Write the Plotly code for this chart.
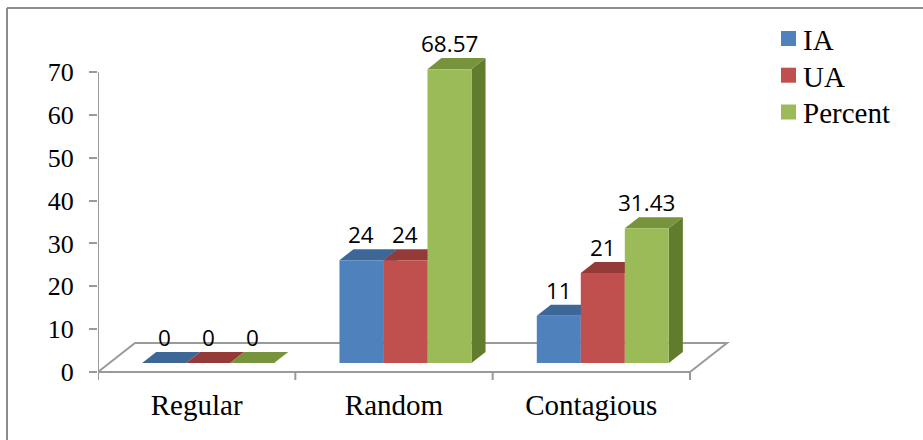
import plotly.graph_objects as go

# ---- data ----
categories = ["Regular", "Random", "Contagious"]
series_names = ["IA", "UA", "Percent"]
ia_values = [0, 24, 11]
ua_values = [0, 24, 21]
percent_values = [0, 68.57, 31.43]
y_tick_values = [0, 10, 20, 30, 40, 50, 60, 70]

series_values = [ia_values, ua_values, percent_values]
front_colors = ["#4F81BD", "#C0504D", "#9BBB59"]
top_colors = ["#3C6797", "#943B39", "#77933C"]
side_colors = ["#33578A", "#7E2F2D", "#627C2E"]

# ---- geometry of the plotting box (pixels) ----
W, H = 923, 440
PL, PR, PT, PB = 98, 740, 30, 380          # plot area edges
ZERO_PX = 372                               # pixel row of value 0 on the front edge
UX = 592 / 3                                # pixels per category unit
KY = 300 / 70                               # pixels per value unit

x_range = [-0.5, -0.5 + (PR - PL) / UX]
y_range = [-(PB - ZERO_PX) / KY, (ZERO_PX - PT) / KY]

# floor depth and bar depth, in pixels, converted to data units
FLOOR_DX, FLOOR_DY = 37 / UX, 29 / KY
F_FRONT, F_BACK = 0.31, 0.69
lift = F_FRONT * FLOOR_DY
shift = F_FRONT * FLOOR_DX
depth_dx = (F_BACK - F_FRONT) * FLOOR_DX
depth_dy = (F_BACK - F_FRONT) * FLOOR_DY
bar_w = 44 / UX
n_cat = len(categories)


def px_to_paper_x(px):
    return (px - PL) / (PR - PL)


def px_to_paper_y(py):
    return (PB - py) / (PB - PT)


fig = go.Figure()
shapes = []
annotations = []

grey = "#9A9A9A"

# floor of the 3-D box
x_left, x_right = -0.5, n_cat - 0.5
shapes.append(dict(
    type="path", xref="x", yref="y", layer="below",
    path=(f"M{x_left},0 L{x_right},0 L{x_right + FLOOR_DX},{FLOOR_DY} "
          f"L{x_left + FLOOR_DX},{FLOOR_DY} Z"),
    line=dict(color=grey, width=2), fillcolor="white"))

# value axis line
shapes.append(dict(type="line", xref="x", yref="y", layer="below",
                   x0=x_left, x1=x_left, y0=0, y1=max(y_tick_values),
                   line=dict(color=grey, width=2)))

# category boundary tick marks under the floor
for b in range(n_cat + 1):
    xb = x_left + b
    shapes.append(dict(type="line", xref="x", yref="y", layer="below",
                       x0=xb, x1=xb, y0=0, y1=-8 / KY,
                       line=dict(color=grey, width=2)))

# bars: front faces as bar traces, tops and sides as paths beneath them
for j, (name, vals) in enumerate(zip(series_names, series_values)):
    centers = [i + shift + (j - 1) * bar_w for i in range(n_cat)]
    fig.add_trace(go.Bar(
        name=name, x=centers, y=vals, base=[lift] * n_cat, width=bar_w,
        marker=dict(color=front_colors[j], line=dict(width=0)),
        showlegend=False, hoverinfo="skip"))
    for c, v in zip(centers, vals):
        xl, xr = c - bar_w / 2, c + bar_w / 2
        yb, yt = lift, lift + v
        if v > 0:
            shapes.append(dict(
                type="path", xref="x", yref="y", layer="below",
                path=(f"M{xr},{yb} L{xr},{yt} L{xr + depth_dx},{yt + depth_dy} "
                      f"L{xr + depth_dx},{yb + depth_dy} Z"),
                line=dict(width=0), fillcolor=side_colors[j]))
        shapes.append(dict(
            type="path", xref="x", yref="y", layer="below",
            path=(f"M{xl},{yt} L{xr},{yt} L{xr + depth_dx},{yt + depth_dy} "
                  f"L{xl + depth_dx},{yt + depth_dy} Z"),
            line=dict(width=0), fillcolor=top_colors[j]))
        annotations.append(dict(
            x=c, y=yt, xref="x", yref="y", text=f"{v:g}", showarrow=False,
            yanchor="middle", yshift=25.5,
            font=dict(family="Open Sans", size=22.5, color="black")))

# legend
legend_rows_px = [38.5, 75.2, 112]
for j, name in enumerate(series_names):
    cy = legend_rows_px[j]
    shapes.append(dict(type="rect", xref="paper", yref="paper",
                       x0=px_to_paper_x(781), x1=px_to_paper_x(796),
                       y0=px_to_paper_y(cy + 7.5), y1=px_to_paper_y(cy - 7.5),
                       line=dict(width=0), fillcolor=front_colors[j]))
    annotations.append(dict(x=px_to_paper_x(801), y=px_to_paper_y(cy + 1.5),
                            xref="paper", yref="paper", text=name,
                            showarrow=False, xanchor="left", yanchor="middle",
                            font=dict(family="Liberation Serif", size=29,
                                      color="black")))

# outer frame (top and left edges)
shapes.append(dict(type="line", xref="paper", yref="paper",
                   x0=px_to_paper_x(7), x1=px_to_paper_x(W),
                   y0=px_to_paper_y(8), y1=px_to_paper_y(8),
                   line=dict(color="#8C8C8C", width=2)))
shapes.append(dict(type="line", xref="paper", yref="paper",
                   x0=px_to_paper_x(7), x1=px_to_paper_x(7),
                   y0=px_to_paper_y(8), y1=px_to_paper_y(H + 2),
                   line=dict(color="#8C8C8C", width=2)))

fig.update_layout(
    width=W, height=H,
    margin=dict(l=PL, r=W - PR, t=PT, b=H - PB, pad=0),
    paper_bgcolor="white", plot_bgcolor="rgba(0,0,0,0)",
    barmode="overlay",
    shapes=shapes, annotations=annotations,
    xaxis=dict(range=x_range, showgrid=False, zeroline=False, showline=False,
               tickmode="array", tickvals=list(range(n_cat)),
               ticktext=categories, ticks="", ticklabelstandoff=5,
               tickfont=dict(family="Liberation Serif", size=29, color="black")),
    yaxis=dict(range=y_range, showgrid=False, zeroline=False, showline=False,
               tickmode="array", tickvals=y_tick_values, ticks="outside",
               ticklen=8, tickwidth=2, tickcolor=grey, ticklabelstandoff=10,
               tickfont=dict(family="Liberation Serif", size=26, color="black")),
)

fig.write_html("out.html")
